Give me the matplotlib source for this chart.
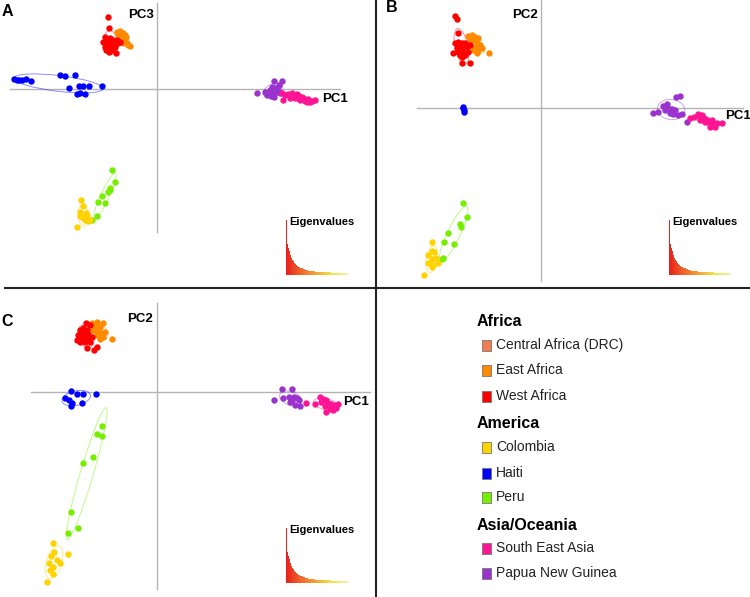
import numpy as np
import matplotlib
matplotlib.use('Agg')
import matplotlib.pyplot as plt
from matplotlib.patches import Ellipse, Rectangle
from matplotlib.colors import LinearSegmentedColormap

plt.rcParams['font.family'] = ['Liberation Sans', 'DejaVu Sans']

# group names and colours (legend order)
REGIONS = ['Africa', 'America', 'Asia/Oceania']
GROUPS = [['Central Africa (DRC)', 'East Africa', 'West Africa'],
          ['Colombia', 'Haiti', 'Peru'],
          ['South East Asia', 'Papua New Guinea']]
COLORS = {'Central Africa (DRC)': '#f47b50', 'East Africa': '#ff8a00',
          'West Africa': '#ff0000', 'Colombia': '#ffd200', 'Haiti': '#0000ff',
          'Peru': '#76ee00', 'South East Asia': '#ff1493',
          'Papua New Guinea': '#9a32cd'}

# --- A : PC1 x PC3 ---
a_east = [(-4.0, 5.7), (-3.7, 5.8), (-3.4, 5.6), (-3.2, 5.4), (-3.5, 5.2), (-3.9, 5.4),
          (-3.3, 4.9), (-3.0, 4.6), (-2.9, 4.4), (-3.4, 4.6), (-3.6, 4.7), (-3.8, 5.1),
          (-3.1, 5.2), (-2.7, 4.3)]
a_west = [(-4.9, 7.2), (-4.8, 6.1), (-5.2, 5.2), (-5.4, 4.7), (-5.0, 4.9), (-4.7, 5.1),
          (-4.4, 4.9), (-4.2, 4.6), (-4.5, 4.6), (-4.9, 4.4), (-5.2, 4.2), (-4.7, 4.1),
          (-4.2, 4.2), (-3.9, 4.6), (-4.8, 3.7), (-4.1, 3.6), (-4.5, 3.9), (-5.0, 4.6),
          (-4.0, 4.9), (-4.4, 4.4), (-3.7, 4.7), (-5.1, 3.9)]
a_haiti = [(-14.3, 1.0), (-14.0, 0.9), (-13.8, 0.9), (-13.5, 0.9), (-13.1, 1.0), (-12.6, 0.8),
           (-9.7, 1.4), (-9.2, 1.3), (-8.2, 1.4), (-8.8, 0.1), (-7.8, 0.3), (-7.4, 0.3),
           (-6.8, 0.3), (-5.5, 0.3), (-8.0, -0.5), (-7.7, -0.4), (-7.2, -0.5)]
a_peru = [(-4.5, -8.1), (-4.2, -9.3), (-4.7, -9.9), (-4.9, -10.3), (-5.5, -10.7),
          (-5.9, -11.3), (-5.2, -11.4), (-6.0, -12.7), (-6.5, -13.1), (-4.7, -10.1)]
a_colombia = [(-7.6, -11.1), (-7.4, -11.7), (-7.7, -12.3), (-7.5, -12.8), (-7.2, -13.1),
              (-7.0, -12.6), (-6.7, -13.1), (-7.1, -12.4), (-8.0, -13.8), (-7.3, -12.9),
              (-6.9, -13.2), (-7.7, -12.7)]
a_png = [(10.0, -0.4), (10.8, -0.3), (11.0, -0.6), (11.7, 0.8), (12.5, 0.8), (11.5, 0.2),
         (11.8, 0.1), (11.6, -0.3), (12.0, -0.3), (11.4, -0.7), (11.7, -0.8), (12.1, -0.1),
         (12.3, -0.4), (11.3, -0.1), (12.2, 0.4)]
a_sea = [(12.5, -0.4), (12.8, -0.6), (13.1, -0.5), (13.5, -0.4), (13.6, -0.7), (14.0, -0.5),
         (14.2, -0.7), (14.5, -0.8), (14.6, -0.9), (14.3, -1.1), (14.8, -1.2), (15.1, -1.0),
         (15.5, -1.2), (15.8, -1.1), (15.0, -1.3), (13.8, -0.9), (13.3, -0.9), (12.6, -1.1),
         (14.1, -0.9), (15.3, -1.3)]

# --- B : PC1 x PC2 ---
b_east = [(-7.3, 7.2), (-6.9, 7.3), (-6.6, 7.1), (-6.3, 7.0), (-6.8, 6.8), (-6.4, 6.5),
          (-6.1, 6.3), (-6.6, 6.1), (-6.3, 5.8), (-5.9, 6.0), (-6.8, 5.8), (-6.4, 5.5),
          (-5.2, 5.5), (-7.1, 6.8)]
b_west = [(-8.6, 9.2), (-8.4, 8.9), (-8.3, 7.5), (-8.6, 6.5), (-8.3, 6.6), (-7.9, 6.5),
          (-7.6, 6.5), (-8.1, 6.1), (-8.4, 6.0), (-7.8, 6.0), (-7.4, 6.1), (-8.3, 5.6),
          (-8.8, 5.5), (-7.8, 5.5), (-7.3, 5.6), (-7.9, 5.1), (-7.9, 4.5), (-7.1, 4.5),
          (-7.6, 5.3), (-8.1, 5.3), (-7.1, 6.3)]
b_haiti = [(-7.8, 0.1), (-7.7, -0.2), (-7.7, -0.4), (-7.8, 0.0)]
b_peru = [(-7.8, -9.5), (-7.4, -10.9), (-8.1, -11.6), (-8.0, -11.9), (-9.3, -12.5),
          (-9.7, -13.4), (-8.7, -13.6), (-9.8, -15.0), (-9.9, -15.1)]
b_colombia = [(-10.9, -13.4), (-10.9, -14.3), (-10.7, -14.4), (-11.3, -14.7), (-10.9, -15.1),
              (-10.5, -15.0), (-11.3, -15.5), (-10.8, -15.7), (-10.3, -15.5), (-10.9, -15.9),
              (-11.7, -16.7)]
b_png = [(11.2, -0.5), (11.7, -0.4), (12.2, 0.2), (12.6, 0.4), (12.7, 0.0), (13.1, -0.1),
         (12.9, -0.5), (13.2, -0.6), (13.5, 1.1), (13.9, 1.2), (13.4, -0.2), (13.7, -0.7),
         (14.1, -0.6), (14.6, -1.4), (12.4, -0.2)]
b_sea = [(14.9, -1.0), (15.3, -0.9), (15.7, -0.6), (15.9, -0.9), (16.1, -0.7), (16.3, -1.0),
         (16.6, -1.2), (16.7, -1.4), (17.0, -1.5), (17.2, -1.7), (17.4, -1.9), (17.6, -1.5),
         (16.9, -1.9), (18.1, -1.5), (16.4, -1.4), (17.1, -1.2), (15.9, -1.2)]

# --- C : PC1 x PC2 ---
c_east = [(-6.5, 6.9), (-6.0, 7.0), (-5.4, 6.9), (-6.2, 6.5), (-5.7, 6.5), (-5.9, 6.0),
          (-5.5, 5.9), (-6.0, 5.7), (-5.4, 5.5), (-5.7, 5.3), (-5.2, 6.0), (-4.5, 5.3),
          (-6.4, 6.2)]
c_west = [(-7.1, 6.9), (-6.7, 6.7), (-7.7, 6.2), (-7.4, 6.4), (-7.0, 6.2), (-7.9, 5.7),
          (-7.5, 5.9), (-7.2, 5.9), (-6.9, 5.8), (-8.0, 5.2), (-7.5, 5.4), (-7.0, 5.4),
          (-6.5, 5.5), (-7.2, 5.0), (-6.7, 5.0), (-7.0, 4.4), (-6.0, 4.5), (-6.3, 4.2),
          (-7.7, 5.0)]
c_haiti = [(-9.2, -0.6), (-8.6, 0.1), (-8.0, -0.2), (-7.4, -0.2), (-6.1, -0.2), (-8.5, -1.1),
           (-8.6, -1.4), (-7.5, -1.1), (-8.8, -0.8)]
c_peru = [(-5.5, -3.4), (-6.0, -4.2), (-5.5, -4.4), (-6.4, -6.5), (-7.4, -7.1),
          (-8.6, -12.0), (-7.9, -13.6), (-8.9, -14.1)]
c_colombia = [(-10.4, -15.1), (-10.6, -16.4), (-10.3, -16.0), (-10.0, -16.8), (-9.7, -17.1),
              (-10.4, -17.5), (-10.8, -17.1), (-10.4, -18.2), (-8.9, -16.2), (-11.0, -19.0),
              (-10.7, -17.8)]
c_png = [(11.7, -0.8), (12.5, 0.3), (12.6, -0.6), (13.5, 0.3), (13.2, -0.5), (13.4, -0.7),
         (13.7, -0.5), (14.0, -0.6), (14.2, -0.8), (14.3, -1.4), (13.8, -1.3), (13.3, -1.0),
         (13.5, -0.8)]
c_sea = [(14.9, -1.1), (15.8, -1.2), (16.3, -0.5), (16.6, -0.7), (16.9, -0.8), (16.4, -1.0),
         (17.1, -1.1), (17.4, -1.2), (17.8, -1.3), (17.9, -1.6), (17.3, -1.7), (16.8, -1.4),
         (17.6, -1.8), (18.1, -1.2), (16.9, -2.0)]

# eigenvalue screeplot (same PCA in every panel)
EIGEN = [54, 30, 27, 24, 20, 17, 15, 14, 12, 11, 10, 9, 8, 7.5, 7, 6.5, 6, 5.5, 5, 4.8,
         4.6, 4.4, 4.2, 4.0, 3.8, 3.7, 3.6, 3.5, 3.4, 3.3, 3.2, 3.1, 3.0, 3.0, 2.9, 2.9,
         2.8, 2.8, 2.7, 2.7, 2.6, 2.6, 2.5, 2.5, 2.4, 2.4, 2.3, 2.3, 2.2, 2.2, 2.1, 2.1,
         2.0, 2.0, 1.9, 1.9, 1.8, 1.8, 1.7, 1.7]

W, H = 750, 597
fig = plt.figure(figsize=(W / 100, H / 100), dpi=100)


def px_axes(x0, y0, w, h):
    return fig.add_axes([x0 / W, 1 - (y0 + h) / H, w / W, h / H])


def draw_panel(box, xlim, ylim, vline, hline, groups, labels):
    ax = px_axes(*box)
    ax.set_xlim(*xlim)
    ax.set_ylim(*ylim)
    ax.axis('off')
    ax.plot([0, 0], vline, color='#b4b4b4', lw=1, zorder=1)
    ax.plot(hline, [0, 0], color='#b4b4b4', lw=1, zorder=1)
    for name, pts in groups:
        pts = np.array(pts)
        col = COLORS[name]
        # class ellipse (1.5 sd), as in ade4 s.class
        if len(pts) > 2:
            mu = pts.mean(axis=0)
            vals, vecs = np.linalg.eigh(np.cov(pts.T))
            ang = np.degrees(np.arctan2(vecs[1, 1], vecs[0, 1]))
            ell = Ellipse(mu, 2 * 1.5 * np.sqrt(vals[1]), 2 * 1.5 * np.sqrt(vals[0]),
                          angle=ang, fill=False, ec=col, lw=0.7, alpha=0.45, zorder=2)
            ax.add_patch(ell)
        ax.scatter(pts[:, 0], pts[:, 1], s=21, color=col, lw=0, zorder=3)
    for txt, xy in labels:
        ax.text(xy[0], xy[1], txt, fontsize=9.5, fontweight='bold', ha='left', va='center')
    return ax


def draw_eigen(x0, y0):
    ax = px_axes(x0, y0, 62, 55)
    cmap = LinearSegmentedColormap.from_list('eig', ['#e8201c', '#f06a2c', '#f2a838', '#eee84a', '#f4f0a0'])
    n = len(EIGEN)
    ax.bar(range(n), EIGEN, width=1.0, color=cmap(np.linspace(0, 1, n)), lw=0)
    ax.set_xlim(-0.5, n - 0.5)
    ax.set_ylim(0, max(EIGEN))
    ax.axis('off')
    fig.text((x0 + 3) / W, 1 - (y0 + 2) / H, 'Eigenvalues', fontsize=8, fontweight='bold',
             ha='left', va='center')


draw_panel((0, 0, 375, 288), (-15.7, 21.8), (-19.9, 8.9), (-14.3, 8.6), (-14.7, 18.3),
           [('East Africa', a_east), ('West Africa', a_west), ('Haiti', a_haiti),
            ('Peru', a_peru), ('Colombia', a_colombia), ('Papua New Guinea', a_png),
            ('South East Asia', a_sea)],
           [('PC3', (-2.9, 7.4)), ('PC1', (16.5, -1.0))])
draw_panel((376, 0, 374, 288), (-16.5, 20.9), (-18.0, 10.8), (-17.3, 10.8), (-12.4, 20.2),
           [('East Africa', b_east), ('West Africa', b_west), ('Haiti', b_haiti),
            ('Peru', b_peru), ('Colombia', b_colombia), ('Papua New Guinea', b_png),
            ('South East Asia', b_sea)],
           [('PC2', (-2.9, 9.3)), ('PC1', (18.4, -0.8))])
draw_panel((0, 289, 375, 308), (-15.7, 21.8), (-20.5, 10.3), (-19.7, 8.9), (-12.6, 21.3),
           [('East Africa', c_east), ('West Africa', c_west), ('Haiti', c_haiti),
            ('Peru', c_peru), ('Colombia', c_colombia), ('Papua New Guinea', c_png),
            ('South East Asia', c_sea)],
           [('PC2', (-3.0, 7.3)), ('PC1', (18.6, -1.0))])

draw_eigen(286, 220)
draw_eigen(669, 220)
draw_eigen(286, 528)

# panel letters
fig.text(2 / W, 1 - 11 / H, 'A', fontsize=11.5, fontweight='bold', va='center')
fig.text(386 / W, 1 - 8 / H, 'B', fontsize=11.5, fontweight='bold', va='center')
fig.text(1 / W, 1 - 322 / H, 'C', fontsize=11.5, fontweight='bold', va='center')

# dividing lines
fig.add_artist(plt.Line2D([5 / W, 1], [1 - 288 / H] * 2, color='#222222', lw=1.5))
fig.add_artist(plt.Line2D([376 / W] * 2, [0, 1], color='#222222', lw=1.5))

# legend
header_y = [322, 424, 525]
item_y = [[345, 370, 396], [447, 473, 497], [548, 573]]
for reg, hy, names, ys in zip(REGIONS, header_y, GROUPS, item_y):
    fig.text(477 / W, 1 - hy / H, reg, fontsize=11.5, fontweight='bold', va='center')
    for nm, yy in zip(names, ys):
        fig.add_artist(Rectangle((481.5 / W, 1 - (yy + 5.5) / H), 9 / W, 11 / H,
                                 transform=fig.transFigure, fc=COLORS[nm], ec='#777777', lw=0.6))
        fig.text(496 / W, 1 - yy / H, nm, fontsize=10, va='center', color='#222222')

fig.savefig('out.png', dpi=100)
